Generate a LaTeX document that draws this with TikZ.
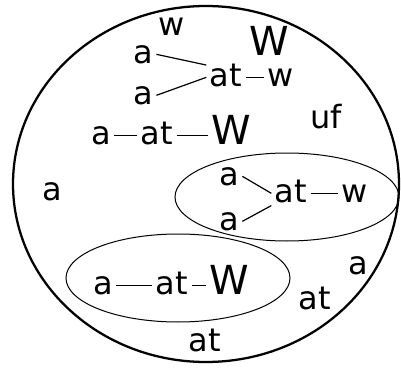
\documentclass[tikz,border=0pt]{standalone}
\usepackage{fontspec}
\setmainfont{DejaVu Sans}
\usetikzlibrary{positioning}
\tikzset{
  lbl/.style={anchor=base, font=\fontsize{24}{28}\selectfont, text height=13pt, text depth=0pt, inner sep=2.5pt},
  bigw/.style={lbl, font=\fontsize{30}{34}\selectfont},
  link/.style={line width=0.9pt},
  grp/.style={draw, line width=0.75pt},
}

\begin{document}
\begin{tikzpicture}[x=0.75pt, y=-0.75pt,
  universe/.style={draw, line width=1.7pt}]
  \useasboundingbox (0,0) rectangle (401,368);
  \draw[universe] (206,184) ellipse [x radius=193, y radius=178];
  \draw[grp] (287,197) ellipse [x radius=112, y radius=44];
  \draw[grp] (178,278) ellipse [x radius=112, y radius=44];

  \node[lbl] (w0) at (172,35) {w};
  \node[bigw] (W0) at (269,55) {W};
  \node[lbl] (a1) at (143,63) {a};
  \node[lbl] (a2) at (143,104) {a};
  \node[lbl] (at1) at (226,86) {at};
  \node[lbl] (w1) at (281,86) {w};
  \draw[link] (a1.east) -- (at1.north west);
  \draw[link] (a2.east) -- (at1.west);
  \draw[link] (at1) -- (w1);

  \node[lbl] (a3) at (101,144) {a};
  \node[lbl] (at3) at (157,144) {at};
  \node[bigw] (W3) at (231,144) {W};
  \draw[link] (a3) -- (at3);
  \draw[link] (at3) -- (W3);
  \node[lbl] (uf) at (326,128) {uf};
  \node[lbl] (a4) at (52,200) {a};

  \node[lbl] (a5) at (229,185) {a};
  \node[lbl] (at5) at (291,202) {at};
  \node[lbl] (w5) at (355,202) {w};
  \node[lbl] (a6) at (229,230) {a};
  \draw[link] (a5.east) -- (at5.west);
  \draw[link] (a6.east) -- (at5.south west);
  \draw[link] (at5) -- (w5);

  \node[lbl] (a7) at (103,294) {a};
  \node[lbl] (at7) at (172,294) {at};
  \node[bigw] (W7) at (229,294) {W};
  \draw[link] (a7) -- (at7);
  \draw[link] (at7) -- (W7);

  \node[lbl] (a8) at (358,274) {a};
  \node[lbl] (at8) at (315,309) {at};
  \node[lbl] (at9) at (205,351) {at};
\end{tikzpicture}
\end{document}
